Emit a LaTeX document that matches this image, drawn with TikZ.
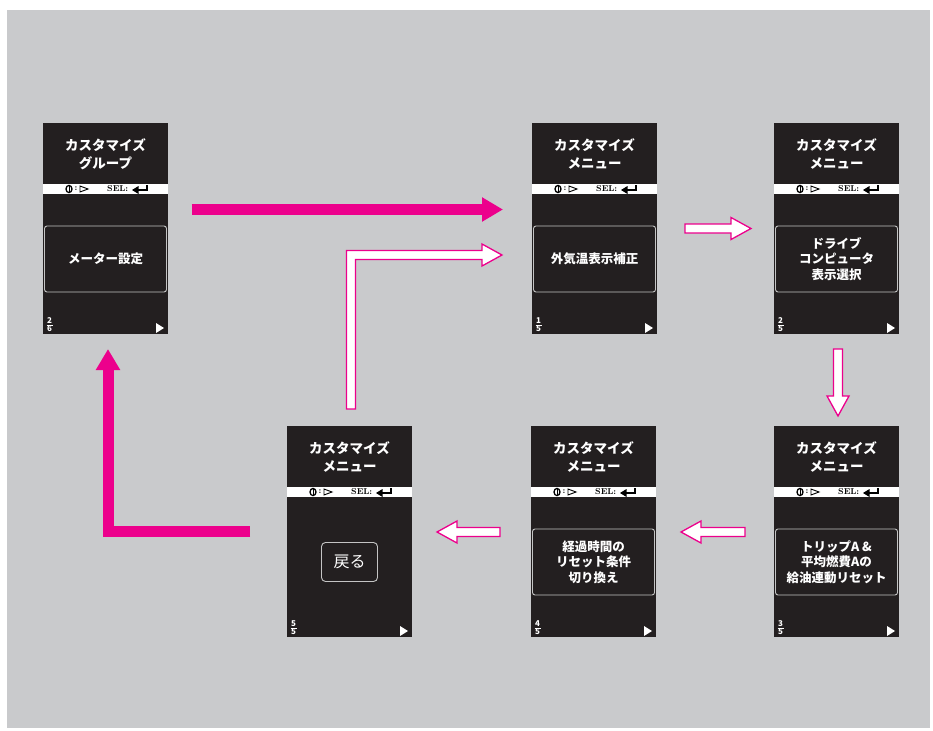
\documentclass[tikz,border=0pt]{standalone}
\usepackage{fontspec}
\usetikzlibrary{arrows.meta,calc}
\newfontfamily\jp{Noto Sans CJK JP}

\definecolor{panelgray}{RGB}{201,202,204}
\definecolor{lcdblack}{RGB}{35,31,32}
\definecolor{menupink}{RGB}{236,0,140}
\definecolor{boxline}{RGB}{196,196,196}

\tikzset{
  lcd/.style={fill=lcdblack,minimum width=125pt,minimum height=211pt,inner sep=0pt,outer sep=0pt},
  lcdtitle/.style={text=white,font=\jp\bfseries\fontsize{13.5}{18}\selectfont,align=center,inner sep=0pt},
  itembox/.style={draw=boxline,line width=.9pt,rounded corners=2.5pt,minimum width=122pt,
    minimum height=66pt,text=white,font=\jp\bfseries\fontsize{12.5}{15.5}\selectfont,
    align=center,inner sep=0pt},
  backbox/.style={draw=boxline,line width=.9pt,rounded corners=4pt,minimum width=56pt,
    minimum height=39pt,text=white,font=\jp\fontsize{16}{16}\selectfont,inner sep=0pt},
  bandtext/.style={font=\bfseries\fontsize{8.5}{8.5}\selectfont,inner sep=0pt},
  pagenum/.style={text=white,font=\jp\bfseries\fontsize{8}{8}\selectfont,inner sep=0pt},
  fatarrow/.style={menupink,line width=11pt,line join=miter,-{Triangle[width=23pt,length=21pt]}},
  hollow/.style={draw=menupink,fill=white,line width=1.3pt,line join=miter,
    to path={($(\tikztostart)!4.5pt!90:(\tikztotarget)$)
      -- ($(\tikztotarget)!20pt!(\tikztostart)!4.5pt!-90:(\tikztostart)$)
      -- ($(\tikztotarget)!20pt!(\tikztostart)!11pt!-90:(\tikztostart)$)
      -- (\tikztotarget)
      -- ($(\tikztotarget)!20pt!(\tikztostart)!11pt!90:(\tikztostart)$)
      -- ($(\tikztotarget)!20pt!(\tikztostart)!4.5pt!90:(\tikztostart)$)
      -- ($(\tikztostart)!4.5pt!-90:(\tikztotarget)$) -- cycle}},
}

\begin{document}
\begin{tikzpicture}[x=1pt,y=-1pt]
  \useasboundingbox (0,0) rectangle (933,730);
  \fill[panelgray] (7,10) rectangle (930,728);

  % screens
  \node[lcd] (grp) at (105.5,228.5) {};
  \node[lcd] (m1) at (594.5,228.5) {};
  \node[lcd] (m2) at (836.5,228.5) {};
  \node[lcd] (m3) at (836.5,531.5) {};
  \node[lcd] (m4) at (593.5,531.5) {};
  \node[lcd] (m5) at (349.5,531.5) {};

  \foreach \n/\ttl/\txt/\bx/\num/\den in {
      grp/{カスタマイズ\\グループ}/{メーター設定}/itembox/2/6,
      m1/{カスタマイズ\\メニュー}/{外気温表示補正}/itembox/1/5,
      m2/{カスタマイズ\\メニュー}/{ドライブ\\コンピュータ\\表示選択}/itembox/2/5,
      m3/{カスタマイズ\\メニュー}/{トリップA \&\\平均燃費Aの\\給油連動リセット}/itembox/3/5,
      m4/{カスタマイズ\\メニュー}/{経過時間の\\リセット条件\\切り換え}/itembox/4/5,
      m5/{カスタマイズ\\メニュー}/{戻る}/backbox/5/5} {
    \node[lcdtitle] (\n-t) at ([yshift=-31pt]\n.north) {\ttl};
    % status band
    \fill[white] ([yshift=-61pt]\n.north west) rectangle ([yshift=-71pt]\n.north east);
    \draw[line width=1.3pt] ([xshift=26pt,yshift=-66pt]\n.north west) ellipse (3pt and 3.6pt);
    \draw[line width=.9pt] ([xshift=26pt,yshift=-62.5pt]\n.north west) -- ++(0,7);
    \node[bandtext] at ([xshift=33pt,yshift=-66pt]\n.north west) {:};
    \draw[line width=.9pt] ([xshift=37pt,yshift=-63pt]\n.north west) -- ++(8,3) -- ++(-8,3) -- cycle;
    \node[bandtext,anchor=west] at ([xshift=64pt,yshift=-66pt]\n.north west) {SEL:};
    \fill ([xshift=89pt,yshift=-67pt]\n.north west) -- ++(6.5,-4) -- ++(0,8) -- cycle;
    \draw[line width=2.4pt] ([xshift=95pt,yshift=-67pt]\n.north west) -- ++(9,0) -- ++(0,-5.5);
    % menu item
    \node[\bx] (\n-i) at ([yshift=-136pt]\n.north) {\txt};
    % page and next mark
    \node[pagenum] at ([xshift=6.5pt,yshift=13pt]\n.south west) {\num};
    \draw[white,line width=.8pt] ([xshift=3.5pt,yshift=9pt]\n.south west) -- ++(6,0);
    \node[pagenum] at ([xshift=6.5pt,yshift=5pt]\n.south west) {\den};
    \fill[white] ([xshift=-12pt,yshift=11pt]\n.south east) -- ([xshift=-4pt,yshift=6pt]\n.south east)
      -- ([xshift=-12pt,yshift=1pt]\n.south east) -- cycle;
  }

  % magenta arrows
  \draw[fatarrow] ([xshift=23.5pt,yshift=19pt]grp.east) -- ([xshift=-29pt,yshift=19pt]m1.west);
  \draw[fatarrow] ([xshift=-37pt]m5.west) -| ([xshift=2.5pt,yshift=-15pt]grp.south);

  % outlined arrows
  \draw[hollow] ([xshift=28pt]m1.east) to ([xshift=-23pt]m2.west);
  \draw[hollow] ([xshift=1.5pt,yshift=-15pt]m2.south) to ([xshift=1.5pt,yshift=10pt]m3.north);
  \draw[hollow] ([xshift=-29pt,yshift=-.5pt]m3.west) to ([xshift=25pt,yshift=-.5pt]m4.east);
  \draw[hollow] ([xshift=-31pt,yshift=-.5pt]m4.west) to ([xshift=25pt,yshift=-.5pt]m5.east);

  \coordinate (back0) at ([xshift=1.5pt,yshift=17pt]m5.north);
  \coordinate (back1) at ([xshift=-30pt,yshift=-26.5pt]m1.west);
  \draw[menupink,fill=white,line width=1.3pt,line join=miter]
    ($(back0)+(-4.5,0)$) -- ($(back0 |- back1)+(-4.5,-4.5)$) -- ($(back1)+(-20,-4.5)$)
    -- ($(back1)+(-20,-11)$) -- (back1) -- ($(back1)+(-20,11)$) -- ($(back1)+(-20,4.5)$)
    -- ($(back0 |- back1)+(4.5,4.5)$) -- ($(back0)+(4.5,0)$) -- cycle;
\end{tikzpicture}
\end{document}
